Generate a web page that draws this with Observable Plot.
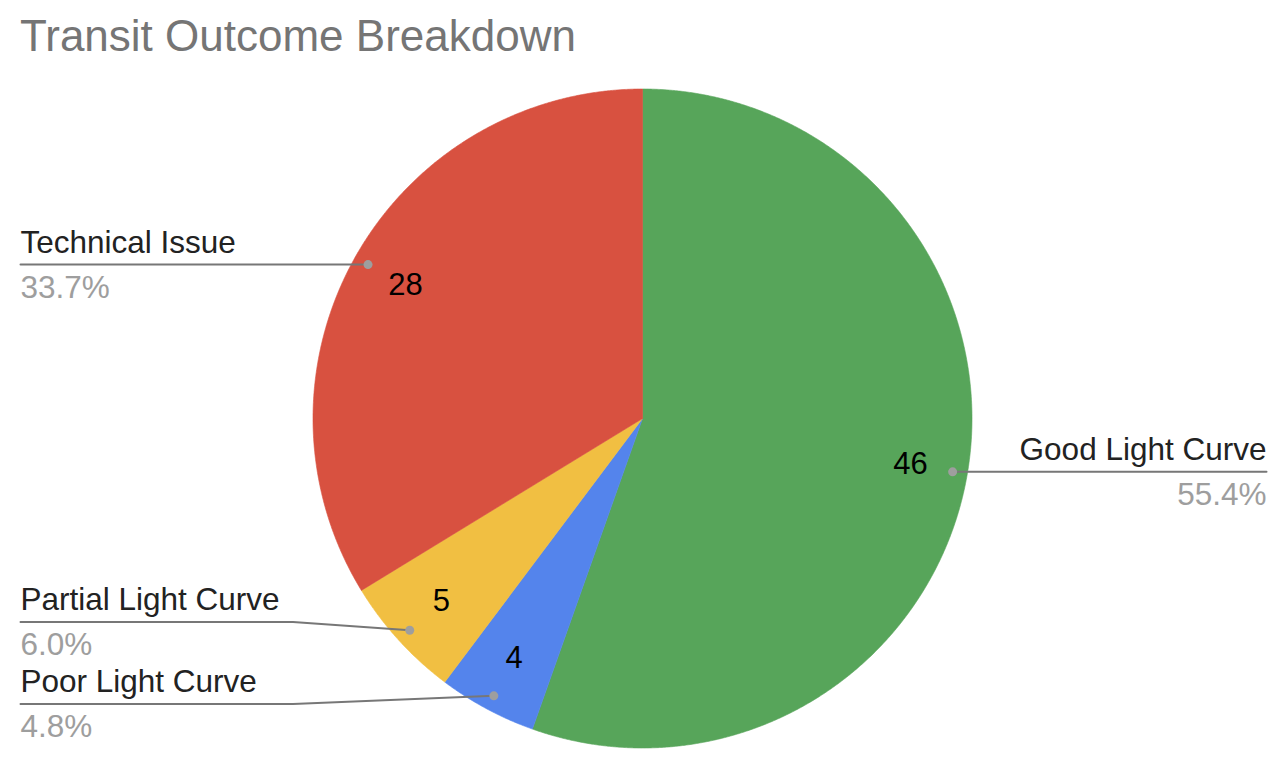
<!DOCTYPE html>
<html>
<head>
<meta charset="utf-8">
<script src="https://cdn.jsdelivr.net/npm/d3@7"></script>
<script src="https://cdn.jsdelivr.net/npm/@observablehq/plot@0.6"></script>
<style>
  body { margin: 0; background: #fff; font-family: Arial, "Liberation Sans", sans-serif; }
  #wrap { position: relative; width: 1286px; height: 774px; overflow: hidden; }
  #title { position: absolute; left: 20px; top: 14px; font-size: 44px; line-height: 44px; color: #757575; white-space: nowrap; }
  #chart { position: absolute; left: 0; top: 0; }
</style>
</head>
<body>
<div id="wrap"><div id="chart"></div><div id="title"></div></div>
<script>
// ---- data ----
const chartTitle = "Transit Outcome Breakdown";
const categories = ["Good Light Curve", "Poor Light Curve", "Partial Light Curve", "Technical Issue"];
const counts = [46, 4, 5, 28];
const sliceColors = ["#57a55a", "#5484ec", "#f1bf42", "#d85140"];

// ---- layout ----
const W = 1286, H = 774;
const cx = 642, cy = 418, R = 329.5;
const dotR = 0.955 * R, valR = 0.825 * R;
const leftX = 20, rightX = 1266, gap = 82;
const FONT = "Arial, 'Liberation Sans', sans-serif";
const LABEL_SIZE = 31.5, VALUE_SIZE = 31;

document.getElementById("title").textContent = chartTitle;

const total = d3.sum(counts);
const arcs = d3.pie().sort(null).value(d => d.count)(
  categories.map((c, i) => ({cat: c, count: counts[i]}))
);

// slice polygons
const poly = [];
for (const a of arcs) {
  const n = Math.max(2, Math.ceil((a.endAngle - a.startAngle) / (Math.PI / 720)));
  poly.push({cat: a.data.cat, px: cx, py: cy});
  for (let k = 0; k <= n; k++) {
    const t = a.startAngle + (a.endAngle - a.startAngle) * k / n;
    poly.push({cat: a.data.cat, px: cx + R * Math.sin(t), py: cy - R * Math.cos(t)});
  }
  poly.push({cat: a.data.cat, px: cx, py: cy});
}

// label info
const info = arcs.map(a => {
  const m = (a.startAngle + a.endAngle) / 2;
  return {
    cat: a.data.cat,
    count: a.data.count,
    pct: (a.data.count / total * 100).toFixed(1) + "%",
    side: m < Math.PI ? "right" : "left",
    dx: cx + dotR * Math.sin(m), dy: cy - dotR * Math.cos(m),
    vx: cx + valR * Math.sin(m), vy: cy - valR * Math.cos(m)
  };
});
for (const d of info) d.ly = d.dy;
// spread overlapping labels per side
for (const side of ["left", "right"]) {
  const g = info.filter(d => d.side === side).sort((a, b) => a.dy - b.dy);
  for (let it = 0; it < 20; it++) {
    for (let i = 1; i < g.length; i++) {
      const diff = g[i].ly - g[i - 1].ly;
      if (diff < gap) { const o = (gap - diff) / 2; g[i - 1].ly -= o; g[i].ly += o; }
    }
  }
}
const leaders = [];
for (const d of info) {
  const endX = d.side === "left" ? leftX : rightX;
  const elbowX = d.side === "left" ? cx - R - 20 : cx + R + 20;
  leaders.push({cat: d.cat, px: endX, py: d.ly});
  leaders.push({cat: d.cat, px: elbowX, py: d.ly});
  leaders.push({cat: d.cat, px: d.dx, py: d.dy});
}
const leftInfo = info.filter(d => d.side === "left");
const rightInfo = info.filter(d => d.side === "right");

const chart = Plot.plot({
  width: W, height: H,
  margin: 0,
  style: {fontFamily: FONT, background: "transparent", overflow: "visible"},
  x: {axis: null, domain: [0, W], range: [0, W]},
  y: {axis: null, domain: [0, H], range: [0, H]},
  color: {domain: categories, range: sliceColors},
  marks: [
    Plot.line(poly, {x: "px", y: "py", z: "cat", fill: "cat", stroke: "cat", strokeWidth: 0.6}),
    Plot.line(leaders, {x: "px", y: "py", z: "cat", stroke: "#777777", strokeWidth: 2}),
    Plot.dot(info, {x: "dx", y: "dy", r: 4.5, fill: "#9e9e9e"}),
    Plot.text(leftInfo, {x: () => leftX, y: d => d.ly - 12, text: "cat", textAnchor: "start", lineAnchor: "bottom", fontSize: LABEL_SIZE, fill: "#222222", fontFamily: FONT}),
    Plot.text(leftInfo, {x: () => leftX, y: d => d.ly + 33, text: "pct", textAnchor: "start", lineAnchor: "bottom", fontSize: LABEL_SIZE, fill: "#9e9e9e", fontFamily: FONT}),
    Plot.text(rightInfo, {x: () => rightX, y: d => d.ly - 12, text: "cat", textAnchor: "end", lineAnchor: "bottom", fontSize: LABEL_SIZE, fill: "#222222", fontFamily: FONT}),
    Plot.text(rightInfo, {x: () => rightX, y: d => d.ly + 33, text: "pct", textAnchor: "end", lineAnchor: "bottom", fontSize: LABEL_SIZE, fill: "#9e9e9e", fontFamily: FONT}),
    Plot.text(info, {x: "vx", y: "vy", text: d => String(d.count), textAnchor: "middle", lineAnchor: "middle", fontSize: VALUE_SIZE, fill: "#000000", fontFamily: FONT})
  ]
});
document.getElementById("chart").appendChild(chart);
</script>
</body>
</html>
